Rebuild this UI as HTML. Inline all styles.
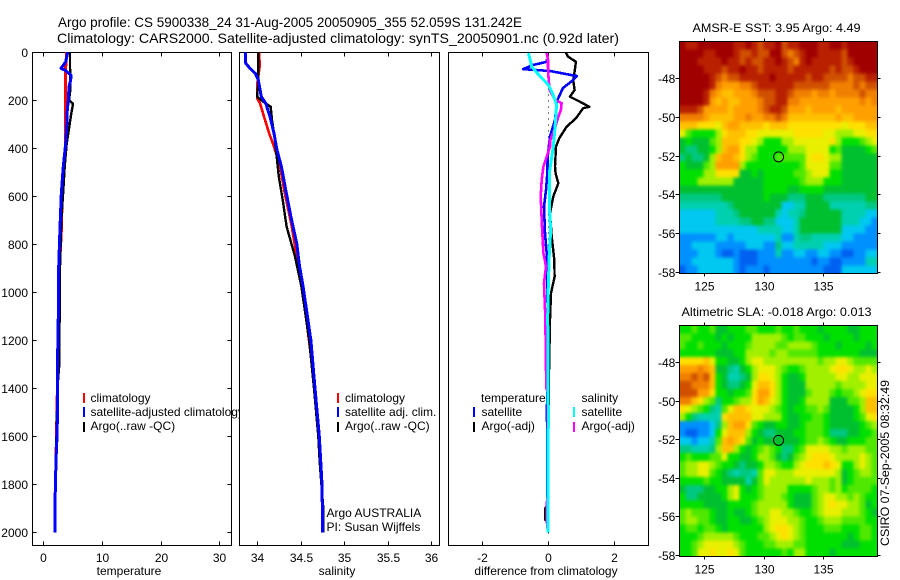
<!DOCTYPE html>
<html>
<head>
<meta charset="utf-8">
<title>Argo profile</title>
<style>
html,body{margin:0;padding:0;background:#fff;}
svg{display:block;font-family:"Liberation Sans",sans-serif;font-size:12px;fill:#000;}
.title{font-size:14px;}
</style>
</head>
<body>
<svg id="chart" xmlns="http://www.w3.org/2000/svg" width="900" height="580" viewBox="0 0 900 580">
<defs>
<filter id="map-smooth" x="-5%" y="-5%" width="110%" height="110%" color-interpolation-filters="sRGB">
<feGaussianBlur in="SourceGraphic" stdDeviation="1.6" result="soft"/>
<feMerge><feMergeNode in="SourceGraphic"/><feMergeNode in="soft"/></feMerge>
</filter>
</defs>
<rect x="0" y="0" width="900" height="580" fill="#fff"/>
<text class="title" x="58" y="27" textLength="464" lengthAdjust="spacingAndGlyphs">Argo profile: CS 5900338_24 31-Aug-2005 20050905_355 52.059S 131.242E</text>
<text class="title" x="57" y="43" textLength="562" lengthAdjust="spacingAndGlyphs">Climatology: CARS2000. Satellite-adjusted climatology: synTS_20050901.nc (0.92d later)</text>
<g id="panels"></g>
<g id="maps"></g>
<text x="692.5" y="32" textLength="168" lengthAdjust="spacingAndGlyphs">AMSR-E SST: 3.95 Argo: 4.49</text>
<text x="681.5" y="316" textLength="190" lengthAdjust="spacingAndGlyphs">Altimetric SLA: -0.018 Argo: 0.013</text>
<text transform="translate(889,546) rotate(-90)" textLength="166" lengthAdjust="spacingAndGlyphs">CSIRO 07-Sep-2005 08:32:49</text>
</svg>
<script>
// ---------- chart data ----------
const depthTicks = [0,200,400,600,800,1000,1200,1400,1600,1800,2000];
const temperatureTicks = [0,10,20,30];
const salinityTicks = [34,34.5,35,35.5,36];
const salinityTickLabels = ['34','34.5','35','35.5','36'];
const differenceTicks = [-2,0,2];
const differenceTickLabels = ['-2','0','2'];
const lonTicks = [125,130,135];
const latTicks = [-48,-50,-52,-54,-56,-58];

const tempClimDepth = [0,60,200,380,475,590,730,900,1100,1400,1700,1880,2000];
const tempClimValues = [3.99,3.82,3.82,3.82,3.54,3.2,3.1,2.75,2.6,2.4,2.16,2,2];
const tempArgoDepth = [0,60,150,200,212,225,254,310,380,475,575,700,895,1060,1150,1310,1400,1700,1900,2000];
const tempArgoValues = [4.55,4.55,4.65,4.39,5.0,5.0,4.78,4.44,4.0,3.65,3.42,3.07,2.85,2.85,2.75,2.7,2.4,2.16,2,2];
const tempSatDepth = [0,40,67,74,95,115,143,200,240,310,380,475,590,730,895,1000,1200,1350,1400,1540,1600,1700,1880,2000];
const tempSatValues = [4.16,3.82,3.02,3.7,4.73,4.67,4.39,4.27,4.1,4.0,3.82,3.42,3.08,2.85,2.62,2.62,2.5,2.39,2.39,2.39,2.33,2.16,2.0,2.0];

const salClimDepth = [0,60,130,193,212,268,338,393,476,587,726,893,976,1400,1800,2000];
const salClimValues = [34.027,34.03,34.004,34.004,34.035,34.08,34.14,34.195,34.265,34.32,34.4,34.475,34.52,34.667,34.747,34.755];
const salArgoDepth = [0,130,185,206,227,282,338,435,518,615,726,851,976,1200,1400,1600,1700,1800,1900,2000];
const salArgoValues = [34.015,34.015,34.0,34.07,34.157,34.172,34.195,34.226,34.25,34.295,34.34,34.437,34.51,34.6,34.655,34.705,34.72,34.74,34.762,34.762];
const salSatDepth = [0,45,67,88,115,185,212,268,338,407,476,573,685,796,893,976,1200,1400,1600,1800,2000];
const salSatValues = [33.87,33.87,33.92,33.98,34.015,34.05,34.1,34.15,34.195,34.23,34.28,34.33,34.39,34.456,34.49,34.53,34.62,34.667,34.716,34.747,34.755];

const diffTempArgoDepth = [0,18,39,73,115,157,185,206,227,233,275,310,358,393,476,504,546,601,671,768,865,935,1004,1115,1400,1880,1900,1949,1960,2000];
const diffTempArgoValues = [0.54,0.6,0.84,0.81,0.76,0.8,0.66,0.96,1.245,1.06,0.84,0.56,0.34,0.24,0.21,0.23,0.31,0.16,0.06,0.11,0.19,0.2,0.09,0.06,0.02,0.0,-0.08,-0.08,0,0];
const diffTempSatDepth = [30,40,53,70,78,99,120,149,203,282,351,434,504,574,643,754,837,948,1100,1500,2000];
const diffTempSatValues = [-0.03,-0.05,-0.45,-0.75,0.06,0.87,0.72,0.45,0.27,0.21,0.06,-0.01,-0.02,-0.06,-0.12,-0.09,-0.04,-0.02,-0.01,-0.03,-0.01];
const diffSalArgoDepth = [3,31,60,120,160,198,212,240,273,315,370,393,476,532,601,726,837,892,962,1100,1400,1420,1840,1880,1950,2000];
const diffSalArgoValues = [-0.04,0,0,0.02,0.06,0.21,0.41,0.39,0.3,0.21,0.06,0.06,-0.14,-0.19,-0.22,-0.18,-0.14,-0.06,-0.12,-0.08,-0.05,0,0,-0.04,-0.04,0];
const diffSalSatDepth = [3,30,60,100,135,176,218,315,393,504,643,740,837,976,1100,1500,2000];
const diffSalSatValues = [-0.59,-0.54,-0.49,-0.24,0.01,0.15,0.26,0.21,0.16,0.04,0.04,0.08,0.04,0.01,-0.01,0.01,0];

const levelColors = ['#a00000','#b82000','#d05000','#f08000','#ffa000','#ffc000','#ffe000','#e8f000','#a0f000','#50e800','#00e000','#00c030','#00c880','#00d0b0','#00c8f0','#0090ff','#0060f0'];

const sstLevels = [
[0,1,1,0,0,0,0,0,0,1,1,0,1,2,1,1,0,2,1,1,0,0,0,1,1,0,0,1,0,0,0,0,0],
[0,0,0,0,1,1,0,0,0,1,2,2,1,2,2,0,0,2,3,2,1,0,0,1,1,1,1,2,0,0,0,0,0],
[0,0,0,1,1,1,1,0,1,1,2,1,2,2,1,1,0,1,2,3,1,0,1,1,1,1,1,2,1,0,0,0,0],
[0,0,0,0,1,1,1,2,1,1,0,1,1,2,1,1,1,1,2,1,1,1,1,1,1,2,1,2,2,1,0,0,0],
[0,0,0,0,0,1,2,3,2,2,1,1,1,1,1,0,1,1,1,1,1,2,1,1,2,2,2,2,3,2,2,1,1],
[0,0,0,0,0,1,3,4,4,4,3,3,2,1,1,1,1,1,1,2,2,2,2,2,2,3,3,3,3,2,3,2,2],
[0,0,0,0,1,3,4,5,5,4,4,4,3,2,2,2,1,1,2,3,3,3,4,3,3,4,3,3,3,3,2,3,3],
[0,0,0,0,1,4,5,4,5,5,4,4,4,3,2,2,1,1,3,3,4,4,4,4,4,4,4,4,4,4,3,4,3],
[1,1,1,2,4,4,4,4,5,4,4,4,4,3,2,1,1,2,4,4,4,5,4,4,4,4,5,4,4,4,4,4,4],
[3,3,3,3,4,5,5,5,5,4,4,3,4,4,3,3,2,3,5,5,5,5,5,5,5,5,4,5,5,4,4,4,4],
[5,5,5,6,6,6,7,5,4,4,5,5,5,5,6,5,5,5,6,6,6,6,6,6,6,6,6,7,6,6,6,5,5],
[7,9,10,10,10,10,8,6,5,5,5,6,6,7,7,7,7,7,7,6,6,6,6,6,7,7,8,8,8,7,7,6,6],
[11,10,11,11,11,9,8,5,5,5,6,6,7,8,10,10,10,8,8,7,7,7,7,7,7,6,8,10,10,10,9,8,7],
[11,12,12,11,11,10,8,5,4,4,6,8,8,10,10,10,10,10,8,8,8,7,7,7,7,10,9,11,11,11,11,10,9],
[12,11,12,12,11,8,5,4,4,5,6,8,9,10,10,10,9,9,9,9,9,7,6,6,7,8,8,11,11,11,11,11,11],
[10,11,11,11,9,8,4,4,4,4,8,10,10,10,10,10,10,10,10,10,9,7,7,7,7,9,9,11,11,11,11,11,11],
[10,10,10,10,8,8,6,6,6,6,11,11,10,11,10,10,10,10,10,9,9,8,7,7,7,10,10,11,11,11,11,11,11],
[10,10,10,8,8,8,8,8,8,11,11,11,11,11,10,10,10,10,10,10,9,8,8,8,10,10,10,11,11,11,11,11,11],
[11,11,11,11,11,11,11,11,11,11,11,11,11,11,10,10,10,10,11,11,10,10,10,10,11,11,11,11,11,11,11,11,11],
[12,12,12,12,12,12,12,11,11,11,11,11,11,11,10,11,11,11,12,12,12,11,11,11,12,12,12,12,12,12,12,11,11],
[13,13,13,13,13,13,13,13,12,11,11,11,11,11,11,11,11,14,14,13,13,11,11,11,11,13,13,13,13,13,13,12,12],
[14,14,14,14,14,14,13,13,13,12,11,11,11,11,11,11,13,14,13,13,12,11,11,11,11,11,11,13,13,13,13,14,14],
[14,14,14,14,14,14,13,13,13,13,12,12,11,11,12,12,14,14,14,13,11,11,11,11,11,11,11,13,13,13,14,14,15],
[14,14,14,14,14,14,14,14,14,14,14,14,14,13,13,13,13,14,14,13,11,11,11,11,11,11,11,14,14,14,14,15,15],
[15,15,15,15,15,15,14,14,15,14,14,14,14,14,14,14,13,15,15,13,12,12,13,13,13,13,13,14,14,15,15,15,15],
[15,15,14,14,14,14,15,15,15,15,15,14,14,14,15,15,12,14,14,13,13,13,13,13,14,14,14,15,15,15,15,15,15],
[15,15,15,14,14,14,15,16,16,15,16,16,16,15,15,15,13,15,15,14,14,15,15,14,14,15,15,16,16,15,15,14,14],
[15,15,14,14,14,14,14,14,14,15,16,16,16,15,15,15,15,15,15,15,15,15,16,15,15,16,16,15,15,15,15,13,13],
[16,15,15,14,14,14,14,14,14,15,16,15,15,15,16,15,15,15,15,15,15,15,15,15,16,16,16,14,14,14,14,14,14]
];

const slaLevels = [
[10,10,9,10,10,9,11,11,10,10,10,9,9,10,10,10,9,10,10,9,10,10,10,11,10,10,10,10,11,11,10,10,10],
[9,9,10,10,10,10,11,10,11,10,10,10,8,8,8,8,8,9,10,9,9,10,10,10,11,10,10,10,10,11,10,10,10],
[9,10,10,9,10,10,10,11,10,10,10,9,8,8,8,8,9,9,8,8,8,8,9,10,10,10,11,10,10,10,10,11,10],
[10,10,10,10,10,10,11,11,11,10,10,8,8,8,8,9,8,8,9,9,9,9,9,10,10,10,10,10,10,10,11,11,11],
[6,6,6,6,5,7,10,10,11,11,10,8,7,7,8,8,8,8,8,8,8,8,8,9,8,8,7,7,8,9,9,9,9],
[4,4,4,3,4,5,11,11,12,13,11,10,8,7,7,7,8,9,10,10,9,8,8,8,8,7,6,6,7,8,8,7,8],
[3,3,2,3,2,5,10,11,13,13,12,11,8,6,6,7,8,10,11,11,10,8,8,8,8,8,7,7,8,8,7,7,7],
[2,2,3,3,3,5,10,11,12,12,11,10,7,5,5,6,8,10,11,11,11,8,8,8,8,8,9,8,8,8,8,7,7],
[2,2,2,4,4,6,10,10,11,10,10,9,6,4,4,6,8,10,11,11,11,9,8,8,8,9,10,9,9,8,7,6,6],
[3,3,5,6,8,9,12,10,10,9,8,8,6,4,5,7,8,10,11,11,10,8,8,8,8,11,11,11,9,9,8,5,5],
[6,7,8,9,10,12,13,9,7,5,5,6,7,7,7,8,9,10,11,10,10,9,9,8,9,11,11,11,11,10,8,5,5],
[8,10,12,13,13,13,13,6,5,5,5,5,7,7,8,8,8,10,11,11,10,10,9,9,10,11,11,11,11,10,9,7,6],
[15,15,15,15,15,14,12,8,5,4,4,6,9,10,11,11,10,10,11,11,10,9,9,9,10,11,11,11,11,11,10,9,8],
[15,16,16,15,15,14,10,7,5,5,5,8,10,11,12,12,11,11,11,10,10,9,9,9,10,12,12,12,11,11,10,10,9],
[14,14,15,14,14,13,9,5,4,5,6,9,11,10,11,11,11,11,11,11,10,9,9,8,9,10,11,11,10,10,10,9,9],
[12,12,13,13,13,12,8,5,5,8,10,11,10,9,8,9,10,12,12,10,9,7,7,7,7,8,8,9,8,8,8,9,9],
[10,9,10,10,10,9,9,7,10,10,11,11,10,8,8,9,11,12,11,9,8,7,6,6,6,7,8,8,8,8,7,8,9],
[9,8,8,7,7,8,9,10,10,11,12,11,11,10,8,8,9,10,10,8,7,6,6,6,5,6,7,10,10,8,7,8,9],
[9,8,8,7,7,9,10,11,12,13,12,12,13,9,7,7,8,8,8,7,7,7,7,7,7,7,8,11,10,9,8,8,9],
[10,10,10,10,9,10,10,11,11,11,11,13,11,9,7,8,8,8,8,8,8,7,8,8,8,9,8,11,10,9,9,9,9],
[11,12,12,12,11,11,10,10,8,7,10,11,10,9,8,8,8,8,10,10,10,10,9,8,8,9,8,10,9,9,9,9,10],
[10,12,12,11,11,11,11,10,8,7,10,10,10,9,8,8,8,9,10,11,11,11,9,8,7,7,8,8,9,8,9,10,10],
[10,10,10,10,11,11,11,11,10,10,10,10,9,8,8,8,8,8,10,11,11,11,9,8,7,6,7,7,8,8,9,11,10],
[9,8,9,9,9,10,11,11,10,11,11,10,9,8,8,7,7,8,8,9,10,10,9,8,7,7,7,8,8,8,9,10,11],
[9,8,8,9,9,10,11,11,10,10,11,11,10,9,8,7,7,7,8,8,9,10,10,9,8,8,8,9,9,9,9,10,10],
[10,9,9,10,9,9,10,11,10,10,10,10,10,10,8,7,6,6,7,8,9,10,10,10,9,9,9,10,10,10,9,9,10],
[10,10,10,9,8,8,8,8,8,9,10,10,10,9,9,8,7,6,7,8,9,10,10,10,10,10,10,10,11,10,9,9,10],
[10,10,9,8,7,7,7,7,7,8,9,10,10,10,9,9,8,8,8,9,9,10,10,10,10,10,10,11,11,11,10,10,10],
[10,10,9,7,7,6,7,7,6,7,9,10,10,10,10,10,10,9,10,8,8,10,10,10,10,11,10,10,10,10,10,10,10]
];

const floatLon = [131.242];
const floatLat = [-52.059];

// ---------- axis functions ----------
const NS = 'http://www.w3.org/2000/svg';
const panelsG = document.getElementById('panels');
const mapsG = document.getElementById('maps');
const plotTop = 52.3, plotBottom = 545.3;
function yDepth(d){ return plotTop + d * 0.24; }
function xTemp(v){ return 43.3 + v * 5.86; }
function xSal(v){ return 257 + (v - 34) * 87; }
function xDiff(v){ return 548 + v * 33.2; }
function mapX(lon){ return 704.3 + (lon - 125) * 11.9; }
function mapY1(lat){ return 78.3 + (-48 - lat) * 19.35; }
function mapY2(lat){ return 362 + (-48 - lat) * 19.3; }

function make(parent, tag, attrs){
  const el = document.createElementNS(NS, tag);
  for (const k in attrs) el.setAttribute(k, attrs[k]);
  parent.appendChild(el);
  return el;
}
function tickLine(parent, x1, y1, x2, y2){
  const el = make(parent, 'line', {x1:x1, y1:y1, x2:x2, y2:y2, stroke:'#000', 'stroke-width':1, 'shape-rendering':'crispEdges'});
  
  
}
function label(parent, x, y, str, anchor){
  const el = make(parent, 'text', {x:x, y:y, 'text-anchor':anchor || 'start'});
  el.textContent = str;
  
  
  return el;
}
function namedLabel(parent, x, y, str, anchor, name){
  const el = label(parent, x, y, str, anchor);
  
}
function frame(parent, x, w, y, h, fillIt){
  const el = make(parent, 'rect', {x:x, y:y, width:w, height:h, fill:fillIt ? '#fff' : 'none', stroke:'#000', 'stroke-width':1, 'shape-rendering':'crispEdges'});
  
  
}
function series(parent, depths, values, xFn, color, width, name){
  const pts = depths.map(function(d, i){ return xFn(values[i]).toFixed(1) + ',' + yDepth(d).toFixed(1); }).join(' ');
  const el = make(parent, 'polyline', {points:pts, fill:'none', stroke:color, 'stroke-width':width, 'stroke-linejoin':'round', 'shape-rendering':'crispEdges'});
  
  
}
function swatch(parent, x, y, color, name){
  const el = make(parent, 'rect', {x:x, y:y, width:2, height:10, fill:color, 'shape-rendering':'crispEdges'});
  
  
}
function xTicks(parent, ticks, labels, xFn){
  ticks.forEach(function(t, i){
    const x = Math.round(xFn(t)) + 0.5;
    tickLine(parent, x, plotTop, x, plotTop + 4);
    tickLine(parent, x, plotBottom, x, plotBottom - 4);
    label(parent, x, 562, labels[i], 'middle');
  });
}

// ---------- panel 1: temperature ----------
const p1 = make(panelsG, 'g', {});


frame(p1, 32.5, 199, plotTop, 493, true);
depthTicks.forEach(function(d){
  const y = Math.round(yDepth(d)) + 0.5;
  tickLine(p1, 32.5, y, 36.5, y);
  tickLine(p1, 231.5, y, 227.5, y);
  label(p1, 28, y + 4.5, String(d), 'end');
});
xTicks(p1, temperatureTicks, temperatureTicks.map(String), xTemp);
namedLabel(p1, 129, 575, 'temperature', 'middle', 'temperature-axis-title');
series(p1, tempClimDepth, tempClimValues, xTemp, '#f00', 3, 'temperature-climatology-line');
series(p1, tempArgoDepth, tempArgoValues, xTemp, '#000', 2.4, 'temperature-argo-line');
series(p1, tempSatDepth, tempSatValues, xTemp, '#00f', 3, 'temperature-satellite-line');
swatch(p1, 83, 393, '#f00', 'legend-swatch-climatology');
swatch(p1, 83, 407, '#00f', 'legend-swatch-satellite');
swatch(p1, 83, 422, '#000', 'legend-swatch-argo');
namedLabel(p1, 90.5, 402, 'climatology', 'start', 'legend-entry-climatology');
namedLabel(p1, 90.5, 416, 'satellite-adjusted climatology', 'start', 'legend-entry-satellite');
namedLabel(p1, 90.5, 430, 'Argo(..raw -QC)', 'start', 'legend-entry-argo');

// ---------- panel 2: salinity ----------
const p2 = make(panelsG, 'g', {});


frame(p2, 239.5, 200, plotTop, 493, true);
xTicks(p2, salinityTicks, salinityTickLabels, xSal);
namedLabel(p2, 337, 575, 'salinity', 'middle', 'salinity-axis-title');
series(p2, salClimDepth, salClimValues, xSal, '#f00', 2.6, 'salinity-climatology-line');
series(p2, salArgoDepth, salArgoValues, xSal, '#000', 2.4, 'salinity-argo-line');
series(p2, salSatDepth, salSatValues, xSal, '#00f', 3, 'salinity-satellite-line');
swatch(p2, 337, 393, '#f00', 'legend-swatch-climatology');
swatch(p2, 337, 407, '#00f', 'legend-swatch-satellite');
swatch(p2, 337, 422, '#000', 'legend-swatch-argo');
namedLabel(p2, 345, 402, 'climatology', 'start', 'legend-entry-climatology');
namedLabel(p2, 345, 416, 'satellite adj. clim.', 'start', 'legend-entry-satellite');
namedLabel(p2, 345, 430, 'Argo(..raw -QC)', 'start', 'legend-entry-argo');
namedLabel(p2, 326.5, 517, 'Argo AUSTRALIA', 'start', 'data-centre-note');
namedLabel(p2, 326.5, 531, 'PI: Susan Wijffels', 'start', 'principal-investigator-note');

// ---------- panel 3: difference ----------
const p3 = make(panelsG, 'g', {});


frame(p3, 448.5, 200, plotTop, 493, true);
xTicks(p3, differenceTicks, differenceTickLabels, xDiff);
namedLabel(p3, 546, 575, 'difference from climatology', 'middle', 'difference-axis-title');
const zero = make(p3, 'line', {x1:xDiff(0)+0.5, x2:xDiff(0)+0.5, y1:yDepth(0), y2:yDepth(2020), stroke:'#000', 'stroke-width':1, 'stroke-dasharray':'1 5', 'shape-rendering':'crispEdges'});


series(p3, diffTempArgoDepth, diffTempArgoValues, xDiff, '#000', 2.4, 'difference-temperature-argo-line');
series(p3, diffTempSatDepth, diffTempSatValues, xDiff, '#00f', 2.6, 'difference-temperature-satellite-line');
series(p3, diffSalArgoDepth, diffSalArgoValues, xDiff, '#f0f', 2.6, 'difference-salinity-argo-line');
series(p3, diffSalSatDepth, diffSalSatValues, xDiff, '#0ff', 3, 'difference-salinity-satellite-line');
swatch(p3, 473, 407, '#00f', 'legend-swatch-temperature-satellite');
swatch(p3, 473, 422, '#000', 'legend-swatch-temperature-argo');
swatch(p3, 573, 407, '#0ff', 'legend-swatch-salinity-satellite');
swatch(p3, 573, 422, '#f0f', 'legend-swatch-salinity-argo');
namedLabel(p3, 481, 402, 'temperature', 'start', 'legend-heading-temperature');
namedLabel(p3, 481.5, 416, 'satellite', 'start', 'legend-entry-temperature-satellite');
namedLabel(p3, 481.5, 430, 'Argo(-adj)', 'start', 'legend-entry-temperature-argo');
namedLabel(p3, 581.5, 402, 'salinity', 'start', 'legend-heading-salinity');
namedLabel(p3, 581.5, 416, 'satellite', 'start', 'legend-entry-salinity-satellite');
namedLabel(p3, 581.5, 430, 'Argo(-adj)', 'start', 'legend-entry-salinity-argo');

// ---------- maps ----------
function drawMap(levels, yFn, groupName, clipId){
  const g = make(mapsG, 'g', {});
  
  
  const lonL = 122.9, lonR = 139.57, latT = -46.1, latB = -58.08;
  const top = yFn(latT), bottom = yFn(latB), left = mapX(lonL), right = mapX(lonR);
  const clip = make(g, 'clipPath', {id:clipId});
  make(clip, 'rect', {x:left, y:top, width:right - left, height:bottom - top});
  const clipWrap = make(g, 'g', {'clip-path':'url(#' + clipId + ')'});
  
  
  const cells = make(clipWrap, 'g', {filter:'url(#map-smooth)'});
  
  
  const dLon = (lonR - lonL) / levels[0].length;
  const dLat = (latT - latB) / levels.length;
  levels.forEach(function(row, r){
    row.forEach(function(level, c){
      const x0 = mapX(lonL + c * dLon), x1 = mapX(lonL + (c + 1) * dLon);
      const y0 = yFn(latT - r * dLat), y1 = yFn(latT - (r + 1) * dLat);
      const cell = make(cells, 'rect', {x:x0.toFixed(2), y:y0.toFixed(2), width:(x1 - x0 + 0.4).toFixed(2), height:(y1 - y0 + 0.4).toFixed(2), fill:levelColors[level], 'shape-rendering':'crispEdges'});
      
      
    });
  });
  const fr = make(g, 'rect', {x:left, y:top, width:right - left, height:bottom - top, fill:'none', stroke:'#000', 'stroke-width':1, 'shape-rendering':'crispEdges'});
  
  
  lonTicks.forEach(function(t){
    const x = Math.round(mapX(t)) + 0.5;
    tickLine(g, x, top, x, top - 3);
    tickLine(g, x, bottom, x, bottom + 3);
    label(g, x, bottom + 17, String(t), 'middle');
  });
  latTicks.forEach(function(t){
    const y = Math.round(yFn(t)) + 0.5;
    tickLine(g, left, y, left - 4, y);
    tickLine(g, right, y, right + 3, y);
    label(g, left - 4, y + 4.5, String(t), 'end');
  });
  const mark = make(g, 'circle', {cx:mapX(floatLon[0]), cy:yFn(floatLat[0]), r:5, fill:'none', stroke:'#000', 'stroke-width':1});
  
  
}
drawMap(sstLevels, mapY1, 'sst-map', 'sst-clip');
drawMap(slaLevels, mapY2, 'sla-map', 'sla-clip');
</script>
</body>
</html>
